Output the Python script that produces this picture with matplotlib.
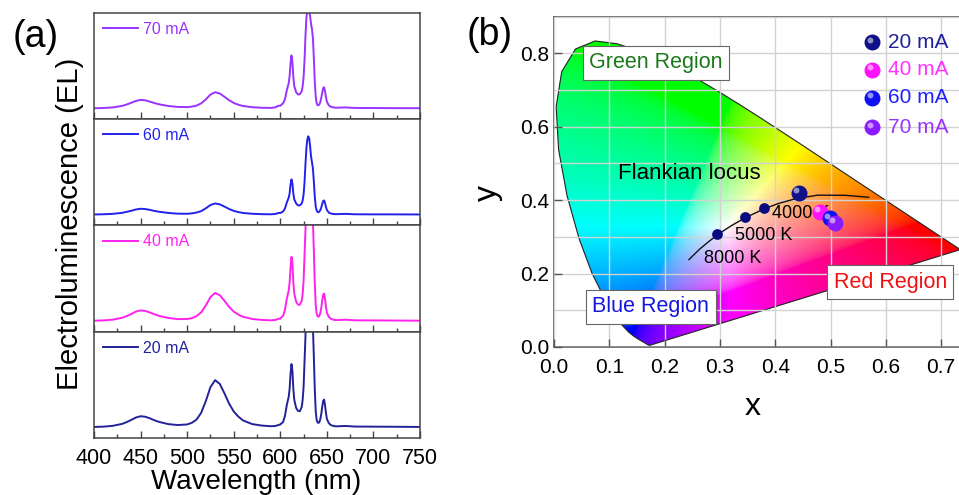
import numpy as np
import matplotlib
matplotlib.use("Agg")
import matplotlib.pyplot as plt
from matplotlib.patches import Polygon
from matplotlib.transforms import offset_copy
from matplotlib.ticker import MultipleLocator

plt.rcParams['font.family'] = ['Liberation Sans', 'DejaVu Sans']

# ---- (a) EL spectra (a.u., 0 = baseline) ----
wavelength = [400, 410, 420, 430, 435, 440, 445, 450, 455, 460, 465, 470, 480, 490,
              500, 505, 510, 515, 520, 525, 530, 535, 540, 545, 550, 555, 560, 570,
              580, 590, 595, 598, 600, 603, 605, 607, 609, 610, 611, 612, 613, 614,
              615, 617, 619, 621, 623, 624, 625, 626, 627, 628, 629, 630, 631, 632,
              633, 634, 635, 636, 637, 638, 639, 640, 641, 642, 643, 644, 645, 646,
              647, 648, 649, 650, 652, 654, 657, 660, 670, 680, 700, 720, 750]

el_70 = [0, 0.25, 0.8, 2.3, 3.7, 5.4, 7.3, 8.3, 7.9, 6.6, 5.1, 3.9, 2.2, 1.3,
         1.1, 1.6, 2.6, 4.8, 8.8, 13.6, 16, 14.7, 11.5, 8.0, 5.3, 3.5, 2.2, 1.0,
         0.5, 0.3, 1.0, 2.5, 2.5, 5, 9, 18, 25, 32, 45, 52.7, 46, 31,
         22, 16, 13.7, 14, 17, 22, 31, 48, 72, 90, 97, 99, 98, 92,
         84, 79, 70, 50, 27, 12, 5, 3, 3, 4, 6.5, 10.5, 15.5, 20,
         21, 17, 11, 6.5, 3, 1.5, 0.8, 0.5, 0.8, 0.3, 0.2, 0.1, 0]

el_60 = [0, 0.2, 0.6, 1.6, 2.6, 3.7, 5.0, 5.7, 5.4, 4.6, 3.5, 2.7, 1.5, 0.8,
         0.7, 1.1, 1.9, 3.3, 6.1, 9.4, 11, 10.1, 7.9, 5.5, 3.6, 2.4, 1.5, 0.7,
         0.3, 0.2, 0.5, 1.5, 1.5, 3, 6, 12, 16.7, 21, 30, 35, 31, 21,
         15, 11, 9, 9.2, 11, 14, 20, 32, 50, 66, 75, 78, 76, 68,
         58, 52, 46, 33, 18, 8, 4, 2.5, 2.3, 3, 4.5, 7, 10.5, 13.5,
         14, 11.5, 7.5, 4.5, 2, 1, 0.5, 0.3, 0.6, 0.2, 0.1, 0.1, 0]

el_40 = [0, 0.3, 1.0, 2.9, 4.6, 6.7, 9.1, 10.3, 9.8, 8.2, 6.4, 4.8, 2.7, 1.6,
         1.7, 2.6, 4.5, 8.3, 15.2, 23.5, 27.7, 25.5, 19.9, 13.9, 9.1, 6.1, 3.9, 1.7,
         0.8, 0.4, 0.8, 2.0, 2.2, 5, 11, 22, 30, 38, 53, 63.7, 57, 38,
         27, 19, 16, 16, 20, 27, 40, 65, 90, 135, 160, 170, 170, 160,
         145, 125, 100, 70, 38, 16, 7, 4.5, 4, 5, 8, 13, 20, 26,
         27, 22, 14, 8, 4, 2, 1, 0.6, 1.0, 0.4, 0.3, 0.2, 0]

el_20 = [0, 0.3, 1.1, 3.0, 4.8, 7.0, 9.4, 10.7, 10.2, 8.6, 6.6, 5.0, 2.8, 1.9,
         2.5, 4.1, 7.3, 14.0, 25.7, 39.7, 46.7, 43.0, 33.6, 23.4, 15.4, 10.3, 6.5, 2.8,
         1.4, 0.7, 1.0, 2.0, 2.5, 5, 11, 22, 30, 38, 53, 62.7, 56, 38,
         27, 19, 16, 15.7, 20, 27, 40, 65, 90, 135, 160, 170, 170, 160,
         145, 125, 100, 70, 38, 16, 7, 4.5, 4, 5, 8, 13, 20, 26,
         27.3, 22, 14, 8, 4, 2, 1, 0.6, 1.0, 0.4, 0.3, 0.2, 0]

currents = ["70 mA", "60 mA", "40 mA", "20 mA"]
spectra = [el_70, el_60, el_40, el_20]
line_colors = ["#9933ff", "#2222ee", "#ff22ee", "#222299"]

# ---- (b) CIE 1931 data ----
locus_x = [0.1741, 0.1738, 0.1733, 0.1726, 0.1714, 0.1703, 0.1689, 0.1669, 0.1644,
           0.1611, 0.1566, 0.1510, 0.1440, 0.1355, 0.1241, 0.1096, 0.0913, 0.0687,
           0.0454, 0.0235, 0.0082, 0.0039, 0.0139, 0.0389, 0.0743, 0.1142, 0.1547,
           0.1929, 0.2296, 0.2658, 0.3016, 0.3373, 0.3731, 0.4087, 0.4441, 0.4788,
           0.5125, 0.5448, 0.5752, 0.6029, 0.6270, 0.6482, 0.6658, 0.6801, 0.6915,
           0.7006, 0.7079, 0.7140, 0.7190, 0.7230, 0.7260, 0.7283, 0.7300, 0.7320,
           0.7347]
locus_y = [0.0050, 0.0049, 0.0048, 0.0048, 0.0051, 0.0058, 0.0069, 0.0086, 0.0109,
           0.0138, 0.0177, 0.0227, 0.0297, 0.0399, 0.0578, 0.0868, 0.1327, 0.2007,
           0.2950, 0.4127, 0.5384, 0.6548, 0.7502, 0.8120, 0.8338, 0.8262, 0.8059,
           0.7816, 0.7543, 0.7243, 0.6923, 0.6589, 0.6245, 0.5896, 0.5547, 0.5202,
           0.4866, 0.4544, 0.4242, 0.3965, 0.3725, 0.3514, 0.3340, 0.3197, 0.3083,
           0.2993, 0.2920, 0.2859, 0.2809, 0.2770, 0.2740, 0.2717, 0.2700, 0.2680,
           0.2653]

planck_x = [0.2440, 0.2565, 0.2637, 0.2807, 0.2952, 0.3064, 0.3221, 0.3451, 0.3805,
            0.4053, 0.4369, 0.4770, 0.5267, 0.5690]
planck_y = [0.2380, 0.2566, 0.2671, 0.2884, 0.3048, 0.3166, 0.3318, 0.3516, 0.3768,
            0.3907, 0.4041, 0.4137, 0.4133, 0.4080]

cct_labels = ["8000 K", "5000 K", "4000 K"]
cct_x = [0.295, 0.345, 0.380]
cct_y = [0.308, 0.354, 0.379]

cie_labels = ["20 mA", "40 mA", "60 mA", "70 mA"]
cie_x = [0.443, 0.481, 0.499, 0.508]
cie_y = [0.420, 0.368, 0.351, 0.338]
sphere_colors = ["#101088", "#ff10ff", "#1010f0", "#8a1aff"]
label_colors = ["#222299", "#ff33ff", "#2222ff", "#9933ff"]

fig = plt.figure(figsize=(9.59, 4.95), dpi=100)

# ---------------- (a) ----------------
gs = fig.add_gridspec(4, 1, left=0.098, right=0.438, bottom=0.1152, top=0.9737, hspace=0)
for i, (lab, sp, col) in enumerate(zip(currents, spectra, line_colors)):
    ax = fig.add_subplot(gs[i])
    ax.plot(wavelength, sp, color=col, lw=1.4, label=lab)
    ax.set_xlim(400, 750)
    ax.set_ylim(-11, 95)
    ax.set_yticks([])
    ax.xaxis.set_major_locator(MultipleLocator(50))
    ax.xaxis.set_minor_locator(MultipleLocator(25))
    ax.tick_params(axis='x', which='major', direction='in', length=5, width=1,
                   color='#444444', labelsize=15.5, pad=7)
    ax.tick_params(axis='x', which='minor', direction='in', length=3, width=1, color='#444444')
    if i < 3:
        ax.tick_params(axis='x', labelbottom=False)
    for s in ax.spines.values():
        s.set_color('#444444')
        s.set_linewidth(1.1)
    ax.legend(loc='upper left', frameon=False, fontsize=11.5, handlelength=2.2,
              handletextpad=0.3, borderaxespad=0.15, labelcolor=col)

fig.text(0.073, 1 - 224 / 495, "Electroluminescence (EL)", rotation=90,
         ha='center', va='center', fontsize=21)
fig.text(256 / 959, 1 - 482 / 495, "Wavelength (nm)", ha='center', va='center', fontsize=20)
fig.text(36 / 959, 1 - 37 / 495, "(a)", ha='center', va='center', fontsize=27)

# ---------------- (b) ----------------
ax = fig.add_axes([0.5777, 0.299, 0.4613, 0.6673])
gx, gy = np.meshgrid(np.linspace(0, 0.8, 640), np.linspace(0.001, 0.9, 720))
XYZ = np.stack([gx / gy, np.ones_like(gx), (1 - gx - gy) / gy])
M = np.array([[3.2406, -1.5372, -0.4986],
              [-0.9689, 1.8758, 0.0415],
              [0.0557, -0.2040, 1.0570]])
rgb = np.einsum('ij,jkl->kli', M, XYZ)
rgb = np.clip(rgb, 0, None)
rgb = rgb / (rgb.max(axis=2, keepdims=True) + 1e-9)
rgb = np.where(rgb <= 0.0031308, 12.92 * rgb, 1.055 * rgb ** (1 / 2.4) - 0.055)
im = ax.imshow(np.clip(rgb, 0, 1), extent=(0, 0.8, 0.001, 0.9), origin='lower',
               aspect='auto', interpolation='bilinear', zorder=0)
poly = Polygon(np.column_stack([locus_x, locus_y]), closed=True, facecolor='none',
               edgecolor='#222222', lw=0.8, zorder=1)
ax.add_patch(poly)
im.set_clip_path(poly)

ax.set_xlim(0, 0.8)
ax.set_ylim(0, 0.9)
ax.set_xticks(np.arange(8) / 10)
ax.xaxis.set_minor_locator(MultipleLocator(0.1))
ax.yaxis.set_major_locator(MultipleLocator(0.2))
ax.yaxis.set_minor_locator(MultipleLocator(0.1))
ax.set_axisbelow(False)
ax.grid(which='both', color='#d2d2d2', lw=1.0)
ax.tick_params(which='major', direction='in', length=6, width=1, color='#555555',
               labelsize=15)
ax.tick_params(axis='x', pad=8)
ax.tick_params(which='minor', length=0)
for s in ax.spines.values():
    s.set_color('#555555')
    s.set_linewidth(1.1)

ax.plot(planck_x, planck_y, color='#111111', lw=1.0, zorder=3)
ax.scatter(cct_x, cct_y, s=45, color='#0a0a80', zorder=4)
label_pos = [(0.271, 0.240), (0.327, 0.305), (0.394, 0.365)]
for lab, (tx, ty) in zip(cct_labels, label_pos):
    ax.text(tx, ty, lab, fontsize=13, va='center', zorder=5)
ax.text(0.116, 0.474, "Flankian locus", fontsize=16, va='center', zorder=5)

hl = offset_copy(ax.transData, fig=fig, x=-1.8, y=1.8, units='points')
for x, y, c in zip(cie_x, cie_y, sphere_colors):
    ax.scatter([x], [y], s=110, color=c, zorder=6)
    ax.scatter([x], [y], s=18, color='white', alpha=0.55, lw=0, zorder=7, transform=hl)

# legend of spheres
leg_y = [0.923, 0.839, 0.754, 0.666]
hla = offset_copy(ax.transAxes, fig=fig, x=-1.8, y=1.8, units='points')
for lab, yy, c, tc in zip(cie_labels, leg_y, sphere_colors, label_colors):
    ax.scatter([0.719], [yy], s=110, color=c, transform=ax.transAxes, zorder=6)
    ax.scatter([0.719], [yy], s=18, color='white', alpha=0.55, lw=0,
               transform=hla, zorder=7)
    ax.text(0.755, yy, lab, color=tc, fontsize=15, va='center', transform=ax.transAxes)

box = dict(boxstyle='square,pad=0.3', facecolor='white', edgecolor='#666666', lw=0.8)
ax.text(0.184, 0.774, "Green Region", color='#1a7a1a', fontsize=15.5, ha='center',
        va='center', bbox=box, zorder=5)
ax.text(0.175, 0.109, "Blue Region", color='#1515e0', fontsize=15.5, ha='center',
        va='center', bbox=box, zorder=5)
ax.text(0.608, 0.177, "Red Region", color='#ee1111', fontsize=15.5, ha='center',
        va='center', bbox=box, zorder=5)

fig.text(753 / 959, 1 - 407 / 495, "x", ha='center', va='center', fontsize=23)
fig.text(488 / 959, 1 - 193 / 495, "y", ha='center', va='center', fontsize=23, rotation=90)
fig.text(490 / 959, 1 - 35 / 495, "(b)", ha='center', va='center', fontsize=27)

fig.savefig("out.png", dpi=100)
